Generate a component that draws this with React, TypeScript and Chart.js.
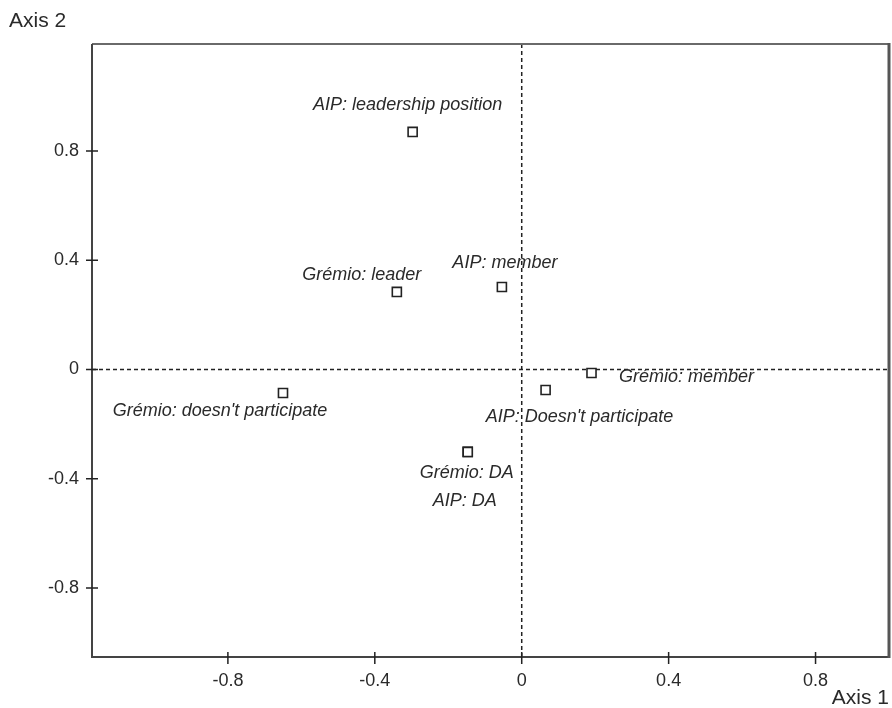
import React, { useEffect, useRef } from "react";
import { Chart, registerables } from "chart.js";

Chart.register(...registerables);

const categories = [
  "AIP: leadership position",
  "Grémio: leader",
  "AIP: member",
  "Grémio: doesn't participate",
  "Grémio: member",
  "AIP: Doesn't participate",
  "Grémio: DA",
  "AIP: DA",
];
const axis1Values = [-0.297, -0.34, -0.054, -0.65, 0.19, 0.065, -0.147, -0.147];
const axis2Values = [0.87, 0.284, 0.302, -0.086, -0.013, -0.075, -0.302, -0.302];
const xTickValues = [-0.8, -0.4, 0, 0.4, 0.8];
const yTickValues = [-0.8, -0.4, 0, 0.4, 0.8];
const xAxisTitle = "Axis 1";
const yAxisTitle = "Axis 2";

// label placement relative to each point (pixels)
const labelOffsets: [number, number][] = [
  [-5, -27],
  [-35, -17],
  [3, -24],
  [-63, 18],
  [95, 4],
  [34, 27],
  [-1, 21],
  [-3, 49],
];

const FONT = '"Liberation Sans", Arial, sans-serif';
const fmt = (v: number) => (v === 0 ? "0" : v.toFixed(1));

const decor = {
  id: "decor",
  beforeDatasetsDraw(chart: any) {
    const { ctx, chartArea: a, scales } = chart;
    const x0 = scales.x.getPixelForValue(0);
    const y0 = scales.y.getPixelForValue(0);
    ctx.save();
    // dashed origin lines
    ctx.setLineDash([4, 3]);
    ctx.strokeStyle = "#222";
    ctx.lineWidth = 1.5;
    ctx.beginPath();
    ctx.moveTo(x0, a.top);
    ctx.lineTo(x0, a.bottom);
    ctx.moveTo(a.left, y0);
    ctx.lineTo(a.right, y0);
    ctx.stroke();
    ctx.setLineDash([]);
    // box
    ctx.lineWidth = 2;
    ctx.strokeStyle = "#6a6a6a";
    ctx.beginPath();
    ctx.moveTo(a.left, a.top);
    ctx.lineTo(a.right, a.top);
    ctx.stroke();
    ctx.strokeStyle = "#444";
    ctx.beginPath();
    ctx.moveTo(a.left, a.top);
    ctx.lineTo(a.left, a.bottom);
    ctx.lineTo(a.right, a.bottom);
    ctx.stroke();
    ctx.lineWidth = 3;
    ctx.strokeStyle = "#555";
    ctx.beginPath();
    ctx.moveTo(a.right, a.top - 1);
    ctx.lineTo(a.right, a.bottom + 1);
    ctx.stroke();
    // tick marks crossing the axes
    ctx.lineWidth = 1.5;
    ctx.strokeStyle = "#222";
    ctx.beginPath();
    xTickValues.forEach((v) => {
      const px = scales.x.getPixelForValue(v);
      ctx.moveTo(px, a.bottom - 5);
      ctx.lineTo(px, a.bottom + 7);
    });
    yTickValues.forEach((v) => {
      const py = scales.y.getPixelForValue(v);
      ctx.moveTo(a.left - 6, py);
      ctx.lineTo(a.left + 6, py);
    });
    ctx.stroke();
    ctx.restore();
  },
  afterDatasetsDraw(chart: any) {
    const { ctx, scales } = chart;
    ctx.save();
    ctx.font = `italic 18px ${FONT}`;
    ctx.fillStyle = "#2a2a2a";
    ctx.textAlign = "center";
    ctx.textBaseline = "middle";
    categories.forEach((c, i) => {
      const px = scales.x.getPixelForValue(axis1Values[i]);
      const py = scales.y.getPixelForValue(axis2Values[i]);
      ctx.fillText(c, px + labelOffsets[i][0], py + labelOffsets[i][1]);
    });
    ctx.restore();
  },
  afterDraw(chart: any) {
    const { ctx } = chart;
    ctx.save();
    ctx.font = `21px ${FONT}`;
    ctx.fillStyle = "#2a2a2a";
    ctx.textBaseline = "middle";
    ctx.textAlign = "left";
    ctx.fillText(yAxisTitle, 9, 21);
    ctx.textAlign = "right";
    ctx.fillText(xAxisTitle, 889, 698);
    ctx.restore();
  },
};

export default function App() {
  const ref = useRef<HTMLCanvasElement | null>(null);
  useEffect(() => {
    if (!ref.current) return;
    const chart = new Chart(ref.current, {
      type: "scatter",
      data: {
        datasets: [
          {
            data: categories.map((_, i) => ({ x: axis1Values[i], y: axis2Values[i] })),
            pointStyle: "rect",
            pointRadius: 6.4,
            pointHoverRadius: 6.4,
            pointBorderWidth: 1.6,
            pointBorderColor: "#222",
            pointBackgroundColor: "#fff",
          },
        ],
      },
      options: {
        animation: false,
        responsive: false,
        maintainAspectRatio: false,
        events: [],
        layout: { autoPadding: false, padding: { left: 0, top: 44, right: 3, bottom: 0 } },
        plugins: { legend: { display: false }, tooltip: { enabled: false } },
        scales: {
          x: {
            type: "linear",
            min: -1.17,
            max: 1.0,
            grid: { display: false, drawTicks: false },
            border: { display: false },
            afterBuildTicks: (axis: any) => {
              axis.ticks = xTickValues.map((v) => ({ value: v }));
            },
            afterFit: (scale: any) => {
              scale.height = 51;
              scale.paddingLeft = 0;
              scale.paddingRight = 0;
            },
            ticks: {
              padding: 13,
              color: "#2a2a2a",
              font: { family: FONT, size: 18 },
              callback: (v: any) => fmt(Number(v)),
              maxRotation: 0,
            },
          },
          y: {
            type: "linear",
            min: -1.053,
            max: 1.192,
            grid: { display: false, drawTicks: false },
            border: { display: false },
            afterBuildTicks: (axis: any) => {
              axis.ticks = yTickValues.map((v) => ({ value: v }));
            },
            afterFit: (scale: any) => {
              scale.width = 92;
              scale.paddingTop = 0;
              scale.paddingBottom = 0;
            },
            ticks: {
              padding: 13,
              color: "#2a2a2a",
              font: { family: FONT, size: 18 },
              callback: (v: any) => fmt(Number(v)),
            },
          },
        },
      },
      plugins: [decor],
    });
    return () => chart.destroy();
  }, []);
  return (
    <div style={{ position: "fixed", left: 0, top: 0, width: 892, height: 708, background: "#fff" }}>
      <canvas ref={ref} width={892} height={708} style={{ width: 892, height: 708, display: "block" }} />
    </div>
  );
}
